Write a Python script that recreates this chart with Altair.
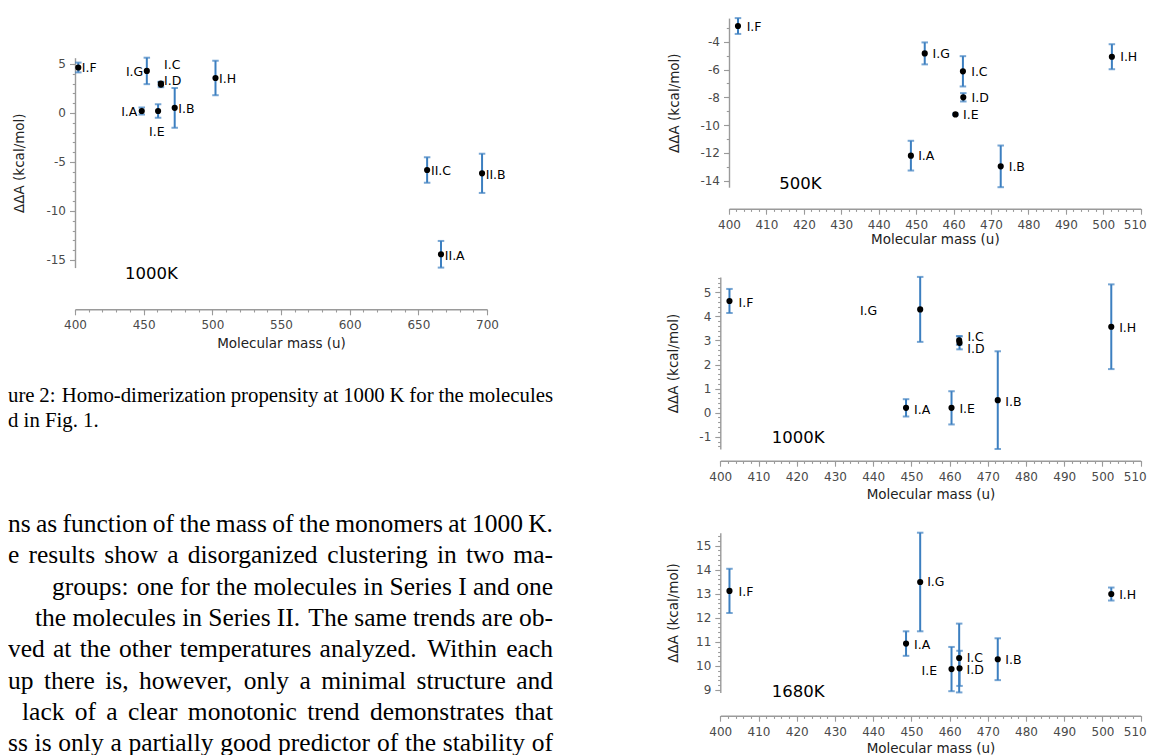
import altair as alt
import numpy as np
import pandas as pd

# ---------------- data ----------------
names_I = ["I.F", "I.A", "I.G", "I.E", "I.C", "I.D", "I.B", "I.H"]
mass_I = [402.4, 448.6, 452.3, 460.5, 462.5, 462.6, 472.6, 502.3]

dA_500 = [-2.87, -12.20, -4.84, -9.23, -6.13, -8.00, -12.97, -5.08]
err_500 = [0.57, 1.07, 0.79, 0.06, 1.09, 0.30, 1.50, 0.90]

dA_1000 = [4.64, 0.20, 4.29, 0.20, 3.00, 2.90, 0.52, 3.57]
err_1000 = [0.50, 0.36, 1.35, 0.69, 0.18, 0.27, 2.03, 1.76]

dA_1680 = [13.12, 10.93, 13.49, 9.87, 10.33, 9.90, 10.28, 12.99]
err_1680 = [0.92, 0.51, 2.05, 0.92, 1.43, 0.73, 0.87, 0.27]

names_II = ["II.C", "II.A", "II.B"]
mass_II = [656.4, 666.5, 696.4]
dA_1000_II = [-5.82, -14.42, -6.16]
err_1000_II = [1.30, 1.36, 2.00]

# label anchors in data units (centre of each label)
labx_fig2 = [410.3, 439.5, 443.4, 459.6, 470.8, 471.1, 481.1, 511.1, 666.5, 676.5, 706.3]
laby_fig2 = [4.62, 0.13, 4.18, -1.91, 4.90, 3.26, 0.37, 3.44, -5.92, -14.59, -6.33]
labx_500 = [406.7, 452.7, 456.7, 464.6, 466.9, 467.1, 476.9, 506.8]
laby_500 = [-2.91, -12.26, -4.88, -9.30, -6.17, -8.05, -13.05, -5.11]
labx_1000 = [406.7, 452.8, 438.8, 464.6, 466.8, 466.9, 476.7, 506.6]
laby_1000 = [4.57, 0.13, 4.22, 0.16, 3.14, 2.63, 0.46, 3.53]
labx_1680 = [406.7, 452.8, 456.4, 454.7, 466.6, 466.7, 476.7, 506.6]
laby_1680 = [13.09, 10.89, 13.47, 9.81, 10.34, 9.84, 10.23, 12.95]

temp_names = ["1000K", "500K", "1000K", "1680K"]
temp_x = [455.6, 419.1, 420.4, 420.4]
temp_y = [-16.45, -14.25, -1.05, 8.90]

caption_lines = [
    "ure 2: Homo-dimerization propensity at 1000 K for the molecules",
    "d in Fig. 1.",
]
paragraph_lines = [
    "ns as function of the mass of the monomers at 1000 K.",
    "e results show a disorganized clustering in two ma-",
    "groups:  one for the molecules in Series I and one",
    "the molecules in Series II. The same trends are ob-",
    "ved at the other temperatures analyzed.  Within each",
    "up there is, however, only a minimal structure and",
    "lack of a clear monotonic trend demonstrates that",
    "ss is only a partially good predictor of the stability of",
]

# ---------------- style / layout ----------------
W, H = 1139, 747
FONT = "DejaVu Sans"
SERIF = "Liberation Serif"
ERR = "#3c7fc0"
AX = "#9a9a9a"
LAB = "#4a4a4a"

# text-column layout (view coordinates): visible start of each line
PAR_START = [0, 0, 44, 27, 0, 0, 14, 0]
CAP_START = 0
COL_RIGHT = 545
PAR_FS, CAP_FS = 25.5, 20.8

# Times advance widths (per 1000 em), used to justify the text lines
TIMES = {" ": 250, ".": 250, ",": 250, ":": 278, "-": 333, "0": 500, "1": 500,
         "2": 500, "3": 500, "4": 500, "5": 500, "6": 500, "7": 500, "8": 500,
         "9": 500, "A": 722, "B": 667, "C": 667, "D": 722, "E": 611, "F": 556,
         "G": 722, "H": 722, "I": 333, "K": 722, "S": 556, "T": 611, "W": 944,
         "a": 444, "b": 500, "c": 444, "d": 500, "e": 444, "f": 333, "g": 500,
         "h": 500, "i": 278, "j": 278, "k": 500, "l": 278, "m": 778, "n": 500,
         "o": 500, "p": 500, "q": 500, "r": 333, "s": 389, "t": 278, "u": 500,
         "v": 500, "w": 722, "x": 500, "y": 500, "z": 444}


def tw(s, fs):
    return sum(TIMES.get(c, 500) for c in s) * fs / 1000.0


def justify(lines, starts, right, fs, idx0=0):
    rows = []
    for li, (line, s) in enumerate(zip(lines, starts)):
        words = line.split()
        ws = [tw(w, fs) for w in words]
        weights = [1.3 if words[k][-1] in ".:" else 1.0 for k in range(len(words) - 1)]
        unit = (right - s - sum(ws)) / sum(weights)
        x = s
        for wi, (w, wd) in enumerate(zip(words, ws)):
            last = wi == len(words) - 1
            rows.append({"word": w, "line": li + idx0, "x": right if last else x,
                         "last": last})
            if not last:
                x += wd + unit * weights[wi]
    return pd.DataFrame(rows)


def steps(lo, hi, step):
    n0 = int(np.ceil(lo / step - 1e-9))
    n1 = int(np.floor(hi / step + 1e-9))
    return [round(k * step, 4) for k in range(n0, n1 + 1)]


def panel(names, mass, val, err, labx, laby, tname, tx, ty,
          xdom, xrng, yrng, xmaj, xmin_step, ymaj_step, ymin_step,
          xoff, yoff, x_title_y, y_title_x, pull_last=False):
    df = pd.DataFrame({"name": names, "mass": mass, "val": val, "err": err,
                       "lx": labx, "ly": laby})
    df["lo"] = df["val"] - df["err"]
    df["hi"] = df["val"] + df["err"]
    ydom = [float(df["lo"].min()), float(df["hi"].max())]

    xs = alt.Scale(domain=xdom, range=xrng, nice=False, zero=False)
    ys = alt.Scale(domain=ydom, range=yrng, nice=False, zero=False)

    xmajor = steps(xdom[0], xdom[1], xmaj)
    xminor = steps(xdom[0], xdom[1], xmin_step)
    ymajor = steps(ydom[0], ydom[1], ymaj_step)
    yminor = steps(ydom[0], ydom[1], ymin_step)

    common = dict(grid=False, tickColor=AX, tickWidth=1.1)
    extra = {}
    if pull_last:
        extra["labelOffset"] = alt.condition(f"datum.value == {xdom[1]}",
                                             alt.value(-6), alt.value(0))
    ax_x_major = alt.Axis(orient="bottom", offset=xoff, values=xmajor, tickSize=5.5,
                          domainColor=AX, domainWidth=1.4,
                          labelFont=FONT, labelFontSize=12, labelColor=LAB,
                          labelPadding=5, labelFlush=False, labelOverlap=False,
                          labelExpr="'' + datum.value",
                          title="Molecular mass (u)", titleFont=FONT,
                          titleFontSize=13.5, titleFontWeight="normal",
                          titleColor="#222222", titleY=x_title_y,
                          titleBaseline="middle", **common, **extra)
    ax_x_minor = alt.Axis(orient="bottom", offset=xoff, values=xminor, tickSize=2.7,
                          domain=False, labels=False, title="", **common)
    ax_y_major = alt.Axis(orient="left", offset=yoff, values=ymajor, tickSize=5.5,
                          domainColor=AX, domainWidth=1.4,
                          labelFont=FONT, labelFontSize=12, labelColor=LAB,
                          labelPadding=4, labelFlush=False, labelOverlap=False,
                          labelExpr="'' + datum.value",
                          title="ΔΔA (kcal/mol)", titleFont=FONT,
                          titleFontSize=13.5, titleFontWeight="normal",
                          titleColor="#222222", titleX=y_title_x,
                          titleBaseline="middle", **common)
    ax_y_minor = alt.Axis(orient="left", offset=yoff, values=yminor, tickSize=2.7,
                          domain=False, labels=False, title="", **common)

    base = alt.Chart(df)
    bars = base.mark_rule(color=ERR, strokeWidth=2).encode(
        x=alt.X("mass:Q", scale=xs, axis=ax_x_minor),
        y=alt.Y("lo:Q", scale=ys, axis=ax_y_minor),
        y2="hi:Q",
    )
    cap_lo = base.mark_tick(color=ERR, orient="horizontal", size=6.5, thickness=2).encode(
        x=alt.X("mass:Q", scale=xs, axis=None),
        y=alt.Y("lo:Q", scale=ys, axis=None),
    )
    cap_hi = base.mark_tick(color=ERR, orient="horizontal", size=6.5, thickness=2).encode(
        x=alt.X("mass:Q", scale=xs, axis=None),
        y=alt.Y("hi:Q", scale=ys, axis=None),
    )
    pts = base.mark_circle(size=38, color="black", opacity=1).encode(
        x=alt.X("mass:Q", scale=xs, axis=ax_x_major),
        y=alt.Y("val:Q", scale=ys, axis=ax_y_major),
    )
    labels = base.mark_text(font=FONT, fontSize=12.5, color="black",
                            align="center", baseline="middle").encode(
        x=alt.X("lx:Q", scale=xs, axis=None),
        y=alt.Y("ly:Q", scale=ys, axis=None),
        text="name:N",
    )
    tdf = pd.DataFrame({"t": [tname], "tx": [tx], "ty": [ty]})
    temp = alt.Chart(tdf).mark_text(font=FONT, fontSize=16.5, color="black",
                                    align="center", baseline="middle").encode(
        x=alt.X("tx:Q", scale=xs, axis=None),
        y=alt.Y("ty:Q", scale=ys, axis=None),
        text="t:N",
    )
    return alt.layer(bars, cap_lo, cap_hi, pts, labels, temp).resolve_axis(
        x="independent", y="independent")


fig2 = panel(names_I + names_II, mass_I + mass_II, dA_1000 + dA_1000_II,
             err_1000 + err_1000_II, labx_fig2, laby_fig2,
             temp_names[0], temp_x[0], temp_y[0],
             [400, 700], [67, 479], [259.6, 49.7], 50, 10, 5, 1,
             301.3 - H, -67, 34, -56)
p500 = panel(names_I, mass_I, dA_500, err_500, labx_500, laby_500,
             temp_names[1], temp_x[1], temp_y[1],
             [400, 510], [721, 1132.7], [179.2, 10.1], 10, 2, 2, 1,
             200.7 - H, -721, 31, -55, pull_last=True)
p1000 = panel(names_I, mass_I, dA_1000, err_1000, labx_1000, laby_1000,
              temp_names[2], temp_x[2], temp_y[2],
              [400, 510], [712.3, 1132.7], [441.0, 268.9], 10, 2, 1, 0.2,
              452.7 - H, -712.3, 34, -47, pull_last=True)
p1680 = panel(names_I, mass_I, dA_1680, err_1680, labx_1680, laby_1680,
              temp_names[3], temp_x[3], temp_y[3],
              [400, 510], [712.3, 1132.7], [684.4, 524.7], 10, 2, 1, 0.2,
              707.7 - H, -712.3, 32.5, -47, pull_last=True)

# ---------------- text of the page ----------------
page_x = alt.Scale(domain=[0, W], range=[0, W], nice=False, zero=False)


def text_block(df, yscale, fs):
    left = alt.Chart(df).transform_filter("!datum.last").mark_text(
        font=SERIF, fontSize=fs, color="black", align="left", baseline="alphabetic"
    ).encode(x=alt.X("x:Q", scale=page_x, axis=None),
             y=alt.Y("line:Q", scale=yscale, axis=None), text="word:N")
    right = alt.Chart(df).transform_filter("datum.last").mark_text(
        font=SERIF, fontSize=fs, color="black", align="right", baseline="alphabetic"
    ).encode(x=alt.X("x:Q", scale=page_x, axis=None),
             y=alt.Y("line:Q", scale=yscale, axis=None), text="word:N")
    return [left, right]


cap_scale = alt.Scale(domain=[0, 1], range=[394, 418.5], nice=False, zero=False)
cap_just = justify(caption_lines[:1], [CAP_START], COL_RIGHT, CAP_FS)
cap_last = pd.DataFrame({"word": [caption_lines[1]], "line": [1], "x": [0.0],
                         "last": [False]})
cap_df = pd.concat([cap_just, cap_last], ignore_index=True)

par_scale = alt.Scale(domain=[0, 7], range=[524, 743.1], nice=False, zero=False)
par_df = justify(paragraph_lines, PAR_START, COL_RIGHT, PAR_FS)

layers = [fig2, p500, p1000, p1680] + text_block(cap_df, cap_scale, CAP_FS) \
    + text_block(par_df, par_scale, PAR_FS)

chart = alt.layer(*layers).resolve_scale(
    x="independent", y="independent"
).properties(
    width=W, height=H, padding=0, autosize=alt.AutoSizeParams(type="none")
).configure_view(stroke="transparent")

chart.save("out.html", embed_options={"renderer": "svg", "actions": False})
